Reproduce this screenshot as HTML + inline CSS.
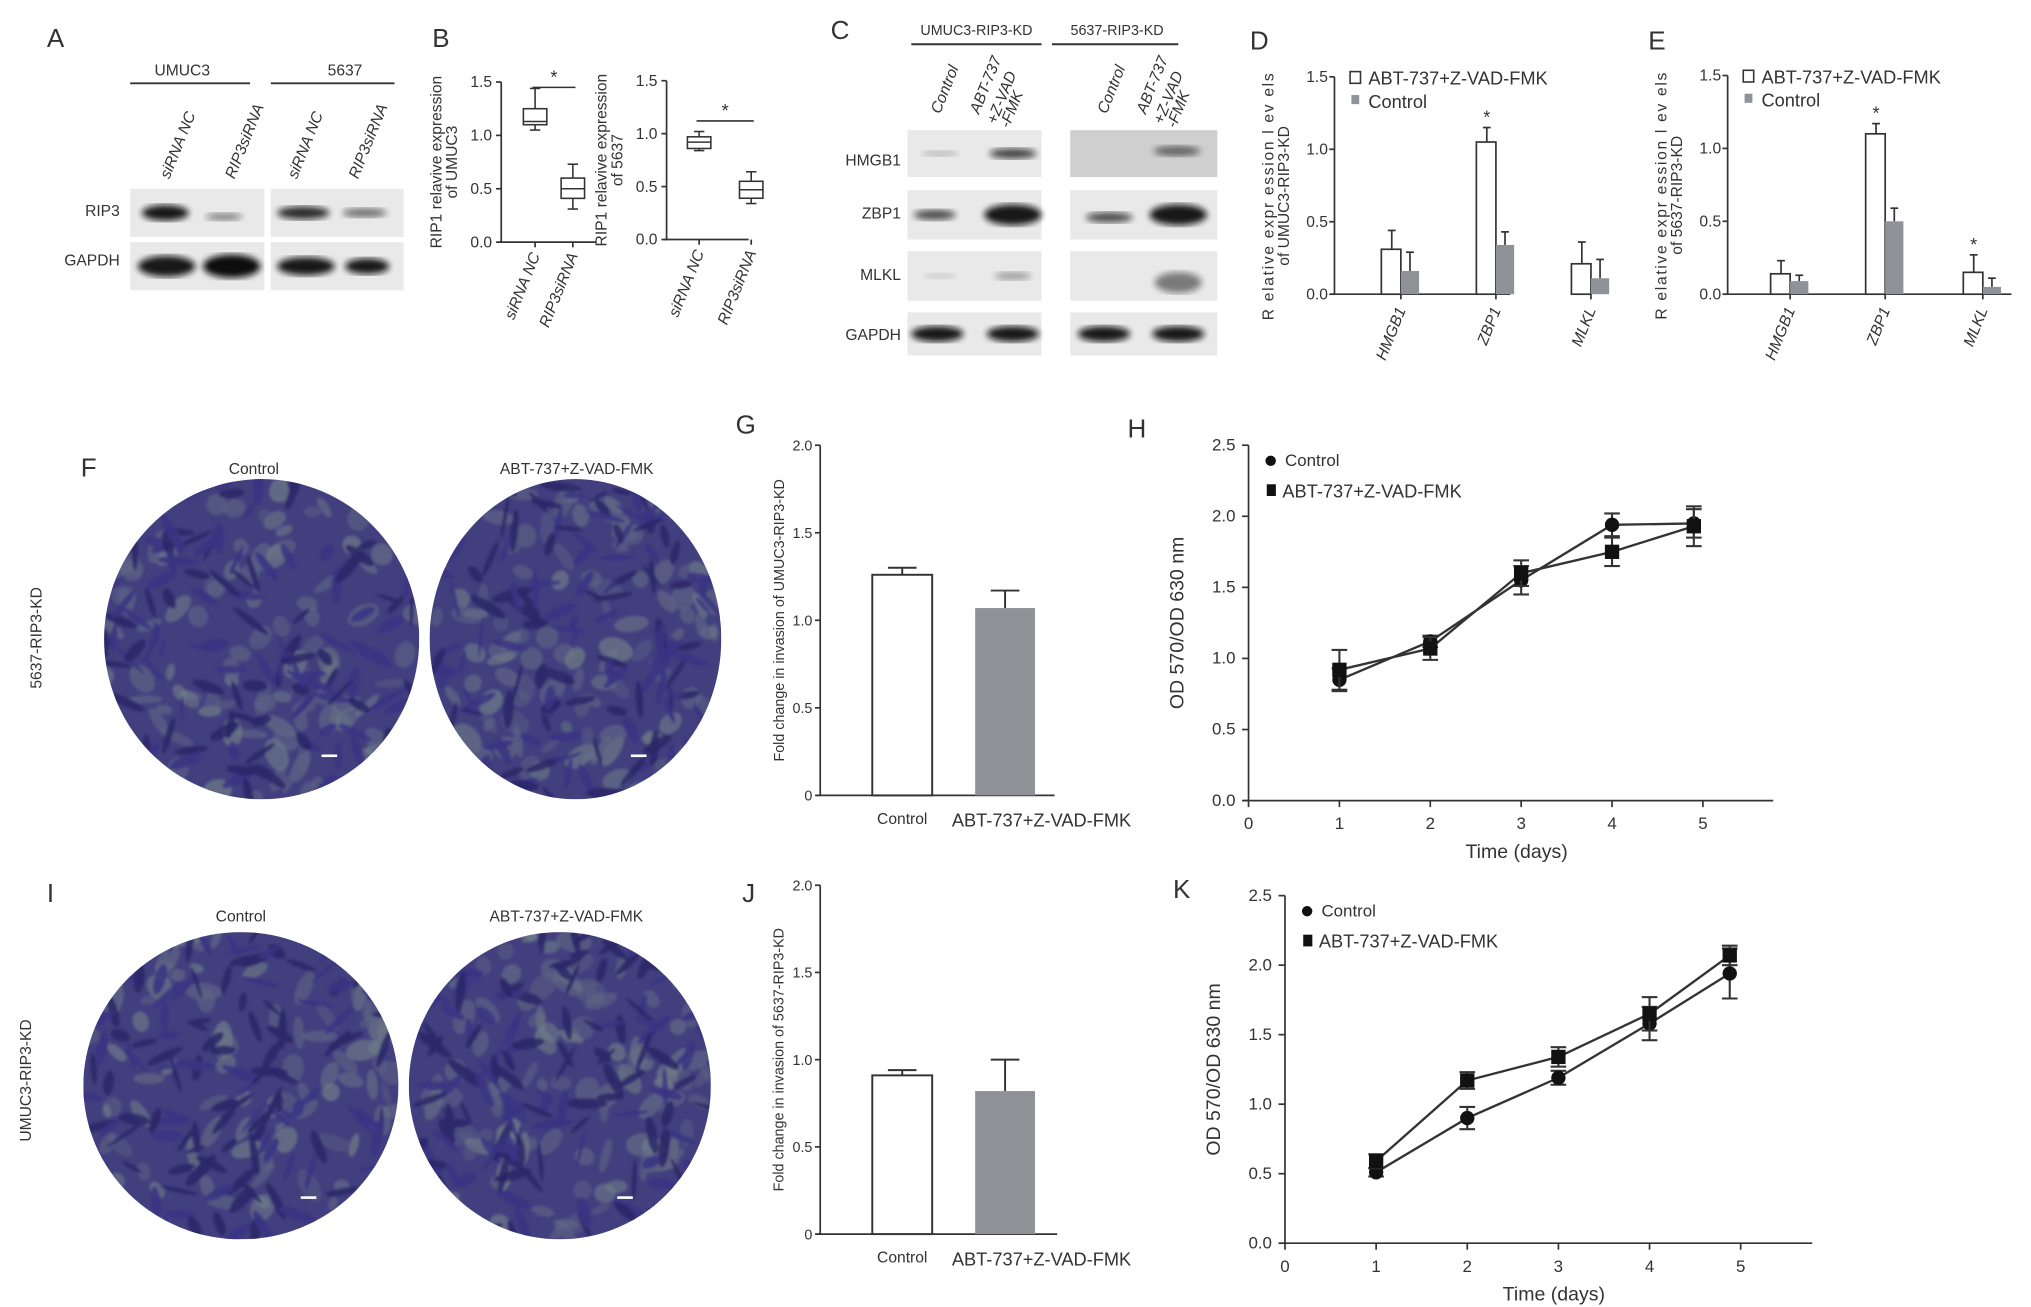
<!DOCTYPE html>
<html><head><meta charset="utf-8">
<style>
html,body{margin:0;padding:0;background:#fff;}
svg{display:block;}
text{font-family:"Liberation Sans",Arial,sans-serif;fill:#333;}
</style></head>
<body>
<svg id="fig" width="2031" height="1307" viewBox="0 0 1560 1004" preserveAspectRatio="none" xmlns="http://www.w3.org/2000/svg">
<defs>
<filter id="blur2"><feGaussianBlur stdDeviation="2.5"/></filter>
<filter id="blur1"><feGaussianBlur stdDeviation="1.0"/></filter>
</defs>
<g id="root"></g>
</svg>
<script>
// ---------- data ----------
const bGroups = ["siRNA NC","RIP3siRNA"];
const bUmuc3Box = [[1.05,1.10,1.13,1.25,1.44],[0.31,0.41,0.50,0.60,0.73]];
const b5637Box = [[0.84,0.86,0.92,0.97,1.02],[0.34,0.39,0.47,0.55,0.64]];
const bTicks = [0,0.5,1.0,1.5];

const geneCats = ["HMGB1","ZBP1","MLKL"];
const dTreat = [0.31,1.05,0.21];
const dTreatErr = [0.13,0.10,0.15];
const dCtrl = [0.16,0.34,0.11];
const dCtrlErr = [0.13,0.09,0.13];
const dStars = [false,true,false];
const eTreat = [0.14,1.10,0.15];
const eTreatErr = [0.09,0.07,0.12];
const eCtrl = [0.09,0.50,0.05];
const eCtrlErr = [0.04,0.09,0.06];
const eStars = [false,true,true];
const deTicks = [0.0,0.5,1.0,1.5];

const invCats = ["Control","ABT-737+Z-VAD-FMK"];
const gVals = [1.26,1.07];
const gErr = [0.04,0.10];
const jVals = [0.91,0.82];
const jErr = [0.03,0.18];
const invTicks = [0,0.5,1.0,1.5,2.0];

const days = [1,2,3,4,4.9];
const hCtrl = [0.85,1.12,1.55,1.94,1.95];
const hCtrlErr = [0.08,0.04,0.10,0.08,0.10];
const hTreat = [0.92,1.07,1.60,1.75,1.93];
const hTreatErr = [0.14,0.08,0.09,0.10,0.14];
const kDays = [1,2,3,4,4.88];
const kCtrl = [0.51,0.90,1.19,1.58,1.94];
const kCtrlErr = [0.03,0.08,0.05,0.12,0.18];
const kTreat = [0.59,1.17,1.34,1.65,2.07];
const kTreatErr = [0.05,0.06,0.07,0.12,0.07];
const odTicks = [0.0,0.5,1.0,1.5,2.0,2.5];
const dayTicks = [0,1,2,3,4,5];

// ---------- helpers ----------
const NS="http://www.w3.org/2000/svg";
const root=document.getElementById('root');
function el(tag,attrs,parent){const e=document.createElementNS(NS,tag);for(const k in attrs)e.setAttribute(k,attrs[k]);(parent||root).appendChild(e);return e;}
function txt(x,y,s,size,parent,extra){const t=el('text',Object.assign({x:x,y:y,'font-size':size},extra||{}),parent);t.textContent=s;return t;}
function line(x1,y1,x2,y2,parent,w,c){return el('line',{x1:x1,y1:y1,x2:x2,y2:y2,stroke:c||'#333','stroke-width':w||1.3},parent);}
function grp(name){const g=el('g',{});return g;}
function lin(d0,d1,r0,r1){return v=>r0+(v-d0)*(r1-r0)/(d1-d0);}

// panel letters
[["A",36,36],["B",332,36],["C",638,30],["D",960,38],["E",1266,38],["F",62,366],["G",565,333],["H",866,336],["I",36,693],["J",570,693],["K",901,690]].forEach(p=>{
  const t=txt(p[1],p[2],p[0],20,null,{fill:'#222'});
  
  
});

// ---------- Western blots ----------
function blotBox(g,x,y,w,h,bands){
  el('rect',{x:x,y:y,width:w,height:h,fill:'#e9e9e9'},g);
  bands.forEach(b=>{el('ellipse',{cx:b[0],cy:y+h/2+(b[3]||0),rx:b[1],ry:b[2],fill:'#111',opacity:b[4]||0.9,filter:'url(#blur2)'},g);});
}
const gA=grp('panel-a-western-blot');
txt(140,58,"UMUC3",12,gA,{'text-anchor':'middle'});line(100,64,192,64,gA,1.5);
txt(265,58,"5637",12,gA,{'text-anchor':'middle'});line(208,64,303,64,gA,1.5);
[["siRNA NC",130],["RIP3siRNA",180],["siRNA NC",228],["RIP3siRNA",275]].forEach(l=>{
  txt(l[1],138,l[0],12,gA,{transform:`rotate(-68 ${l[1]} 138)`,'font-style':'italic'});
});
txt(92,166,"RIP3",12,gA,{'text-anchor':'end'});txt(92,204,"GAPDH",12,gA,{'text-anchor':'end'});
blotBox(gA,100,145,103,37,[[127,18,6,0,0.95],[172,14,3,3,0.45]]);
blotBox(gA,208,145,102,37,[[233,20,5,0,0.85],[280,17,3.5,0,0.55]]);
blotBox(gA,100,186,103,37,[[128,22,8,0,0.95],[178,22,9,0,1]]);
blotBox(gA,208,186,102,37,[[235,22,7,0,0.95],[282,17,6,0,0.95]]);

const gC=grp('panel-c-western-blot');
txt(750,27,"UMUC3-RIP3-KD",11,gC,{'text-anchor':'middle'});line(700,34,800,34,gC,1.5);
txt(858,27,"5637-RIP3-KD",11,gC,{'text-anchor':'middle'});line(808,34,905,34,gC,1.5);
[["Control",722,88],["ABT-737",752,88],["+Z-VAD",765,96],["-FMK",775,99],["Control",850,88],["ABT-737",880,88],["+Z-VAD",893,96],["-FMK",903,99]].forEach(l=>{
  txt(l[1],l[2],l[0],12,gC,{transform:`rotate(-68 ${l[1]} ${l[2]})`,'font-style':'italic'});
});
[["HMGB1",127],["ZBP1",168],["MLKL",215],["GAPDH",261]].forEach(l=>txt(692,l[1],l[0],12,gC,{'text-anchor':'end'}));
blotBox(gC,697,100,103,36,[[722,14,2,0,0.25],[778,18,4,0,0.75]]);
blotBox(gC,697,146,103,38,[[718,16,4,0,0.7],[778,22,8,0,0.95]]);
blotBox(gC,697,193,103,38,[[722,12,2,0,0.15],[778,14,3,0,0.35]]);
blotBox(gC,697,240,103,33,[[720,20,6,0,0.95],[778,20,6,0,0.95]]);
el('rect',{x:822,y:100,width:113,height:36,fill:'#cfcfcf'},gC);
el('ellipse',{cx:904,cy:116,rx:18,ry:4,fill:'#222',opacity:0.6,filter:'url(#blur2)'},gC);
blotBox(gC,822,146,113,38,[[852,18,4,2,0.7],[905,22,8,0,0.95]]);
blotBox(gC,822,193,113,38,[[905,18,8,5,0.5]]);
blotBox(gC,822,240,113,33,[[848,20,6,0,0.95],[905,20,6,0,0.95]]);

// ---------- Panel B box plots ----------
function boxPlot(name,ax,y0,y15,xR,xs,data,starY,title1,title2){
  const g=grp(name);
  const y=lin(0,1.5,y0,y15);
  line(ax,y15,ax,y0,g);line(ax-2,y0,xR,y0,g);
  bTicks.forEach(t=>{line(ax-4,y(t),ax,y(t),g);txt(ax-7,y(t)+4,t.toFixed(1),12,g,{'text-anchor':'end',fill:'#555'});});
  data.forEach((d,i)=>{
    const cx=xs[i];
    line(cx,y(d[0]),cx,y(d[1]),g,1.2);line(cx,y(d[3]),cx,y(d[4]),g,1.2);
    line(cx-4,y(d[0]),cx+4,y(d[0]),g,1.2);line(cx-4,y(d[4]),cx+4,y(d[4]),g,1.2);
    const r=el('rect',{x:cx-9,y:y(d[3]),width:18,height:y(d[1])-y(d[3]),fill:'#fff',stroke:'#333','stroke-width':1.2},g);
    
    
    line(cx-9,y(d[2]),cx+9,y(d[2]),g,1.2);
    line(cx,y0,cx,y0+4,g);
    txt(cx+4,y0+10,bGroups[i],12,g,{transform:`rotate(-68 ${cx+4} ${y0+10})`,'text-anchor':'end','font-style':'italic'});
  });
  line(xs[0]-2,y(starY),xs[1]+2,y(starY),g,1.2);
  txt((xs[0]+xs[1])/2,y(starY)-3,"*",14,g,{'text-anchor':'middle'});
  const tx=ax-34,ty=(y0+y15)/2;
  txt(tx-12,ty,title1,12,g,{transform:`rotate(-90 ${tx-12} ${ty})`,'text-anchor':'middle',fill:'#555'});
  txt(tx,ty,title2,12,g,{transform:`rotate(-90 ${tx} ${ty})`,'text-anchor':'middle',fill:'#555'});
}
boxPlot('panel-b-umuc3-boxplot',385,186,63,458,[411,440],bUmuc3Box,1.45,"RIP1 relavive expression","of UMUC3");
boxPlot('panel-b-5637-boxplot',512,184,62,575,[537,577],b5637Box,1.12,"RIP1 relavive expression","of 5637");

// ---------- Panels D,E grouped bars ----------
function groupBars(name,ax,y0,y15,xR,centers,treat,tErr,ctrl,cErr,stars,t1,t2){
  const g=grp(name);
  const y=lin(0,1.5,y0,y15);
  line(ax,y15,ax,y0,g);line(ax-3,y0,xR,y0,g);
  deTicks.forEach(t=>{line(ax-4,y(t),ax,y(t),g);txt(ax-5,y(t)+4,t.toFixed(1),12,g,{'text-anchor':'end',fill:'#555'});});
  centers.forEach((c,i)=>{
    line(c-7,y(treat[i]),c-7,y(treat[i]+tErr[i]),g,1.3);line(c-10,y(treat[i]+tErr[i]),c-4,y(treat[i]+tErr[i]),g,1.3);
    const b1=el('rect',{x:c-15,y:y(treat[i]),width:15,height:y0-y(treat[i]),fill:'#fff',stroke:'#333','stroke-width':1.3},g);
    
    
    line(c+7,y(ctrl[i]),c+7,y(ctrl[i]+cErr[i]),g,1.3);line(c+4,y(ctrl[i]+cErr[i]),c+10,y(ctrl[i]+cErr[i]),g,1.3);
    const b2=el('rect',{x:c,y:y(ctrl[i]),width:14,height:y0-y(ctrl[i]),fill:'#8f9398'},g);
    
    
    if(stars[i])txt(c-7,y(treat[i]+tErr[i])-3,"*",14,g,{'text-anchor':'middle'});
    line(c,y0,c,y0+4,g);
    txt(c+4,y0+12,geneCats[i],12,g,{transform:`rotate(-68 ${c+4} ${y0+12})`,'text-anchor':'end','font-style':'italic'});
  });
  const lg=el('g',{},g);
  el('rect',{x:ax+12,y:y15-4,width:8,height:9,fill:'#fff',stroke:'#333','stroke-width':1.2},lg);
  txt(ax+26,y15+6,"ABT-737+Z-VAD-FMK",14,lg);
  el('rect',{x:ax+13,y:y15+14,width:6,height:7,fill:'#8f9398'},lg);
  txt(ax+26,y15+24,"Control",14,lg);
  const tx=ax-47,ty=(y0+y15)/2+8;
  txt(tx,ty,t1,12,g,{transform:`rotate(-90 ${tx} ${ty})`,'text-anchor':'middle',fill:'#555','letter-spacing':'1.3'});
  txt(tx+12,ty,t2,12,g,{transform:`rotate(-90 ${tx+12} ${ty})`,'text-anchor':'middle',fill:'#555'});
}
groupBars('panel-d-umuc3-bar-chart',1025,226,59,1160,[1076,1149,1222],dTreat,dTreatErr,dCtrl,dCtrlErr,dStars,"R elative expr ession  l ev els","of UMUC3-RIP3-KD");
groupBars('panel-e-5637-bar-chart',1327,226,58,1545,[1375,1448,1523],eTreat,eTreatErr,eCtrl,eCtrlErr,eStars,"R elative expr ession  l ev els","of 5637-RIP3-KD");

// ---------- Microscopy images ----------
let seed=7;function rnd(){seed=(seed*16807)%2147483647;return seed/2147483647;}
function micro(name,cx,cy,rx,ry,lbl,lx,ly){
  const g=grp(name);
  const id='clip'+name;
  const cp=el('clipPath',{id:id},g);el('ellipse',{cx:cx,cy:cy,rx:rx,ry:ry},cp);
  const inner=el('g',{'clip-path':`url(#${id})`},g);
  el('rect',{x:cx-rx,y:cy-ry,width:2*rx,height:2*ry,fill:'#423f7e'},inner);
  const bl=el('g',{filter:'url(#blur1)'},inner);
  for(let i=0;i<110;i++){
    const x=cx-rx+rnd()*2*rx,y=cy-ry+rnd()*2*ry;
    el('ellipse',{cx:x,cy:y,rx:5+rnd()*9,ry:3+rnd()*6,fill:rnd()<0.5?'#707e88':'#5d6584',opacity:0.35+rnd()*0.35,transform:`rotate(${rnd()*180} ${x} ${y})`},bl);
  }
  for(let i=0;i<140;i++){
    const x=cx-rx+rnd()*2*rx,y=cy-ry+rnd()*2*ry;
    el('ellipse',{cx:x,cy:y,rx:7+rnd()*10,ry:1.5+rnd()*3,fill:rnd()<0.5?'#2a2768':'#3a3484',opacity:0.85,transform:`rotate(${rnd()*180} ${x} ${y})`},bl);
  }
  el('rect',{x:cx+rx*0.38,y:cy+ry*0.72,width:12,height:2,fill:'#fff'},inner);
  txt(lx,ly,lbl,12,g,{'text-anchor':'middle',fill:'#222'});
}
micro('image-f-control',201,491,121,123,"Control",195,364);
micro('image-f-treatment',442,491,112,123,"ABT-737+Z-VAD-FMK",443,364);
micro('image-i-control',185,834,121,118,"Control",185,708);
micro('image-i-treatment',430,834,116,118,"ABT-737+Z-VAD-FMK",435,708);
const s1=txt(32,490,"5637-RIP3-KD",12,null,{transform:'rotate(-90 32 490)','text-anchor':'middle',fill:'#444'});

const s2=txt(24,830,"UMUC3-RIP3-KD",12,null,{transform:'rotate(-90 24 830)','text-anchor':'middle',fill:'#444'});


// ---------- Panels G,J invasion bars ----------
function invBars(name,ax,y0,y2,xR,vals,errs,title){
  const g=grp(name);
  const y=lin(0,2,y0,y2);
  line(ax,y2,ax,y0,g);line(ax-3,y0,xR,y0,g);
  invTicks.forEach(t=>{line(ax-4,y(t),ax,y(t),g);txt(ax-6,y(t)+4,t===0?"0":t.toFixed(1),11,g,{'text-anchor':'end',fill:'#555'});});
  const xs=[693,772];
  vals.forEach((v,i)=>{
    line(xs[i],y(v),xs[i],y(v+errs[i]),g,1.5);line(xs[i]-11,y(v+errs[i]),xs[i]+11,y(v+errs[i]),g,1.5);
    const b=el('rect',{x:xs[i]-23,y:y(v),width:46,height:y0-y(v),fill:i?'#8f9398':'#fff',stroke:i?'none':'#333','stroke-width':1.5},g);
    
    
  });
  txt(693,y0+22,invCats[0],12,g,{'text-anchor':'middle'});
  txt(800,y0+24,invCats[1],14,g,{'text-anchor':'middle'});
  const tx=ax-28,ty=(y0+y2)/2;
  txt(tx,ty,title,11,g,{transform:`rotate(-90 ${tx} ${ty})`,'text-anchor':'middle',fill:'#555'});
}
invBars('panel-g-invasion-chart',630,611,342,810,gVals,gErr,"Fold change in invasion of UMUC3-RIP3-KD");
invBars('panel-j-invasion-chart',630,948,680,812,jVals,jErr,"Fold change in invasion of 5637-RIP3-KD");

// ---------- Panels H,K line charts ----------
function lineChart(name,ax,y0,y25,x5,xR,xd,ctrl,cErr,treat,tErr){
  const g=grp(name);
  const y=lin(0,2.5,y0,y25), x=lin(0,5,ax,x5);
  line(ax,y25,ax,y0,g);line(ax-4,y0,xR,y0,g);
  odTicks.forEach(t=>{line(ax-5,y(t),ax,y(t),g);txt(ax-10,y(t)+4,t.toFixed(1),13,g,{'text-anchor':'end',fill:'#555'});});
  dayTicks.forEach(t=>{line(x(t),y0,x(t),y0+5,g);txt(x(t),y0+22,String(t),13,g,{'text-anchor':'middle',fill:'#555'});});
  txt(x(2.95),y0+44,"Time (days)",15,g,{'text-anchor':'middle'});
  const tx=ax-50,ty=(y0+y25)/2;
  txt(tx,ty,"OD 570/OD 630 nm",15,g,{transform:`rotate(-90 ${tx} ${ty})`,'text-anchor':'middle',fill:'#444'});
  [[ctrl,cErr,'control'],[treat,tErr,'treatment']].forEach(s=>{
    const pl=el('polyline',{points:xd.map((d,i)=>x(d)+','+y(s[0][i])).join(' '),fill:'none',stroke:'#333','stroke-width':1.8},g);
    
    
    xd.forEach((d,i)=>{
      const px=x(d),lo=y(s[0][i]-s[1][i]),hi=y(s[0][i]+s[1][i]);
      line(px,lo,px,hi,g,1.6);line(px-6,lo,px+6,lo,g,1.6);line(px-6,hi,px+6,hi,g,1.6);
      let m;
      if(s[2]==='control')m=el('circle',{cx:px,cy:y(s[0][i]),r:5.5,fill:'#111'},g);
      else m=el('rect',{x:px-5.5,y:y(s[0][i])-5.5,width:11,height:11,fill:'#111'},g);
      
      
    });
  });
  const lg=el('g',{},g);
  el('circle',{cx:ax+17,cy:y25+12,r:4,fill:'#111'},lg);
  txt(ax+28,y25+16,"Control",13,lg);
  el('rect',{x:ax+14,y:y25+30,width:7,height:9,fill:'#111'},lg);
  txt(ax+26,y25+40,"ABT-737+Z-VAD-FMK",14,lg);
}
lineChart('panel-h-growth-chart',959,615,342,1308,1362,days,hCtrl,hCtrlErr,hTreat,hTreatErr);
lineChart('panel-k-growth-chart',987,955,688,1337,1392,kDays,kCtrl,kCtrlErr,kTreat,kTreatErr);
</script>
</body></html>
